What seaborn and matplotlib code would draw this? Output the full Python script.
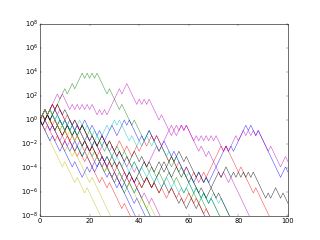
import numpy as np
import pandas as pd
import matplotlib
matplotlib.use("Agg")
import matplotlib.pyplot as plt
import seaborn as sns
from matplotlib.ticker import NullLocator

# Each walk: turning points (x, natural-log exponent k); value plotted = e**k
walk_b1 = [(0,0),(1,1),(4,-2),(5,-1),(9,-5),(10,-4),(12,-6),(14,-4),(17,-7),(18,-6),(22,-10),(24,-8),(27,-11),(28,-10),(31,-13),(32,-12),(38,-18),(39,-19)]
walk_g1 = [(0,0),(1,-1),(3,1),(4,0),(10,6),(11,5),(13,7),(14,6),(17,9),(18,8),(19,9),(20,8),(21,9),(22,8),(23,9),(27,5),(28,6),(32,2),(33,3),(37,-1),(38,0),(42,-4),(44,-2),(48,-6),(49,-5),(53,-9),(54,-8),(56,-10),(57,-9),(62,-14),(63,-13),(68,-18),(69,-19)]
walk_r1 = [(0,0),(2,-2),(3,-1),(6,-4),(7,-3),(9,-5),(11,-3),(15,-7),(16,-6),(18,-8),(19,-7),(24,-12),(25,-11),(27,-13),(28,-12),(33,-17),(34,-16),(37,-19)]
walk_c1 = [(0,0),(2,2),(3,1),(4,2),(8,-2),(9,-1),(10,-2),(11,-1),(16,-6),(18,-4),(20,-6),(21,-5),(25,-9),(27,-7),(31,-11),(32,-10),(35,-13),(36,-12),(38,-14),(39,-13),(44,-18),(45,-19)]
walk_m1 = [(0,0),(1,1),(2,0),(7,5),(8,4),(9,5),(12,2),(13,3),(14,2),(15,3),(16,2),(17,3),(18,2),(19,3),(20,2),(21,3),(23,1),(24,2),(25,1),(26,2),(27,1),(28,2),(32,6),(33,5),(35,7),(39,3),(40,4),(41,3),(42,4),(43,3),(44,4),(48,0),(49,1),(52,-2),(53,-1),(55,-3),(57,-1),(58,-2),(59,-1),(64,-6),(65,-5),(67,-7),(68,-6),(73,-11),(74,-10),(76,-12),(77,-11),(83,-17),(85,-19)]
walk_y1 = [(0,0),(9,-9),(10,-8),(14,-12),(15,-11),(18,-14),(19,-13),(24,-18),(25,-19)]
walk_k1 = [(0,0),(2,2),(3,1),(5,3),(9,-1),(10,0),(12,-2),(13,-1),(17,-5),(18,-4),(20,-6),(22,-4),(26,-8),(27,-7),(29,-9),(30,-8),(34,-12),(36,-10),(38,-12),(39,-11),(41,-13),(43,-11),(45,-13),(46,-12),(48,-14),(50,-12),(52,-14),(53,-13),(56,-16),(57,-15),(59,-17),(61,-15),(63,-17),(64,-16),(67,-19)]
walk_b2 = [(0,0),(2,2),(4,0),(5,1),(7,-1),(8,0),(10,-2),(11,-1),(13,-3),(15,-1),(16,-2),(18,0),(20,-2),(21,-1),(23,-3),(24,-2),(26,-4),(29,-1),(31,-3),(33,-1),(34,0),(35,-1),(36,0),(40,-4),(41,-3),(42,-4),(44,-2),(46,-4),(47,-3),(49,-5),(50,-4),(53,-7),(54,-6),(58,-10),(59,-9),(62,-12),(64,-10),(66,-12),(67,-11),(68,-12),(75,-5),(76,-6),(77,-5),(78,-6),(83,-1),(84,-2),(85,-1),(87,-3),(88,-2),(97,-11),(99,-9),(100,-10)]
walk_g2 = [(0,0),(1,-1),(3,1),(6,-2),(7,-1),(9,-3),(10,-2),(14,-6),(15,-5),(17,-7),(19,-5),(21,-7),(22,-6),(26,-10),(27,-9),(29,-11),(30,-10),(34,-14),(36,-12),(38,-14),(39,-13),(44,-18),(45,-19)]
walk_r2 = [(0,0),(2,2),(3,1),(5,3),(6,2),(7,3),(10,0),(11,1),(13,-1),(14,0),(16,-2),(17,-1),(20,-4),(21,-3),(23,-5),(25,-3),(27,-5),(28,-4),(30,-6),(32,-4),(34,-6),(35,-5),(37,-7),(39,-5),(40,-6),(42,-4),(43,-5),(45,-3),(46,-4),(47,-3),(52,-8),(53,-7),(55,-9),(56,-8),(58,-10),(59,-9),(61,-11),(62,-10),(64,-12),(66,-10),(67,-11),(73,-5),(74,-6),(75,-5),(80,-10),(81,-9),(86,-14),(87,-13),(93,-19)]
walk_c2 = [(0,0),(1,1),(2,0),(4,2),(6,0),(7,1),(9,-1),(10,0),(12,-2),(13,-1),(14,-2),(16,0),(18,-2),(19,-1),(21,-3),(22,-2),(24,-4),(27,-1),(28,-2),(30,0),(31,-1),(32,0),(36,-4),(37,-3),(39,-5),(40,-4),(41,-5),(43,-3),(45,-5),(46,-4),(48,-6),(49,-5),(51,-7),(52,-6),(54,-8),(55,-7),(59,-11),(60,-10),(65,-15),(66,-14),(68,-16),(69,-15),(73,-19)]
walk_m2 = [(0,0),(2,2),(3,1),(5,3),(7,1),(8,2),(11,-1),(12,0),(14,-2),(15,-1),(18,-4),(19,-3),(21,-5),(22,-4),(24,-6),(26,-4),(28,-6),(29,-5),(31,-7),(32,-6),(35,-9),(36,-8),(38,-10),(39,-9),(40,-10),(42,-8),(43,-9),(47,-5),(48,-6),(52,-2),(53,-3),(55,-1),(56,-2),(57,-1),(58,-2),(59,-1),(62,-4),(63,-3),(64,-4),(65,-3),(66,-4),(67,-3),(68,-4),(69,-3),(70,-4),(71,-3),(74,-6),(75,-5),(76,-6),(79,-3),(80,-4),(82,-2),(83,-3),(84,-2),(85,-3),(86,-2),(87,-3),(88,-2),(89,-3),(92,-6),(93,-5),(97,-9),(99,-7),(100,-8)]
walk_y2 = [(0,0),(1,1),(3,-1),(4,0),(10,-6),(11,-5),(13,-7),(14,-6),(20,-12),(21,-11),(28,-18),(29,-19)]
walk_k2 = [(0,0),(1,1),(2,0),(3,1),(6,-2),(7,-1),(9,-3),(11,-1),(13,-3),(14,-2),(17,-5),(18,-4),(20,-6),(21,-5),(24,-8),(25,-7),(27,-9),(29,-7),(31,-9),(32,-8),(35,-11),(36,-10),(38,-12),(40,-10),(42,-12),(43,-11),(45,-13),(46,-12),(50,-8),(51,-9),(53,-7),(54,-8),(56,-6),(58,-8),(59,-7),(63,-11),(64,-10),(66,-12),(67,-11),(69,-13),(72,-10),(73,-11),(75,-9),(77,-11),(78,-10),(79,-11),(80,-10),(81,-11),(82,-10),(83,-11),(84,-10),(85,-11),(86,-10),(91,-15),(92,-14),(93,-15),(95,-13),(97,-15),(98,-14),(100,-16)]
walk_b3 = [(0,0),(4,-4),(5,-3),(8,-6),(9,-5),(13,-9),(14,-8),(17,-11),(19,-9),(20,-10),(22,-8),(23,-9),(25,-7),(26,-8),(30,-12),(31,-11),(33,-13),(34,-12),(38,-16),(39,-15),(43,-19)]
walk_g3 = [(0,0),(2,2),(3,1),(4,2),(7,-1),(8,0),(10,-2),(11,-1),(13,-3),(14,-2),(15,-3),(17,-1),(19,-3),(20,-2),(23,-5),(24,-4),(26,-6),(27,-5),(29,-7),(31,-5),(33,-7),(34,-6),(37,-9),(38,-8),(40,-10),(42,-8),(44,-10),(45,-9),(47,-11),(48,-10),(50,-12),(52,-10),(54,-12),(55,-11),(58,-14),(59,-13),(61,-15),(62,-14),(64,-16),(66,-14),(68,-16),(69,-15),(73,-19)]
walk_r3 = [(0,0),(1,1),(2,0),(3,1),(5,-1),(6,0),(9,-3),(10,-2),(12,-4),(13,-3),(14,-4),(16,-2),(20,-6),(21,-5),(23,-7),(24,-6),(27,-9),(28,-8),(30,-10),(32,-8),(36,-12),(37,-11),(39,-13),(40,-12),(41,-13),(43,-11),(45,-13),(46,-12),(48,-14),(49,-13),(51,-15),(53,-13),(55,-15),(56,-14),(58,-16),(60,-14),(62,-16),(63,-15),(66,-18),(67,-17),(69,-19)]
walk_c3 = [(0,0),(2,2),(3,1),(4,2),(6,0),(7,1),(9,-1),(10,0),(11,-1),(12,0),(15,-3),(16,-2),(18,-4),(19,-3),(21,-5),(23,-3),(25,-5),(26,-4),(30,-8),(31,-7),(33,-9),(34,-8),(36,-10),(38,-8),(40,-10),(41,-9),(43,-11),(44,-10),(46,-12),(47,-11),(49,-13),(51,-11),(53,-13),(54,-12),(56,-14),(57,-13),(58,-14),(60,-12),(62,-14),(63,-13),(65,-15),(66,-14),(68,-16),(70,-14),(72,-16),(73,-15),(76,-18),(77,-19)]
walk_m3 = [(0,0),(1,-1),(2,0),(4,-2),(5,-1),(8,-4),(9,-3),(11,-5),(12,-4),(14,-6),(16,-4),(18,-6),(19,-5),(22,-8),(23,-7),(25,-9),(26,-8),(29,-11),(30,-10),(32,-12),(34,-10),(36,-12),(37,-11),(41,-15),(42,-14),(44,-16),(45,-15),(49,-19)]
walk_y3 = [(0,0),(2,2),(3,1),(4,2),(8,-2),(9,-1),(11,-3),(12,-2),(14,-4),(15,-3),(19,-7),(20,-6),(22,-8),(23,-7),(26,-10),(27,-9),(30,-12),(32,-10),(35,-13),(36,-12),(40,-16),(41,-15),(43,-17),(44,-16),(47,-19)]
walk_k3 = [(0,0),(1,-1),(3,1),(4,0),(7,3),(9,1),(10,2),(13,-1),(14,0),(16,-2),(17,-1),(20,-4),(21,-3),(23,-5),(25,-3),(27,-5),(28,-4),(31,-7),(32,-6),(34,-8),(35,-7),(36,-8),(38,-6),(40,-8),(41,-7),(43,-9),(44,-8),(46,-10),(48,-8),(50,-10),(51,-9),(53,-11),(55,-9),(57,-11),(58,-10),(60,-12),(61,-11),(64,-14),(65,-13),(67,-15),(69,-13),(71,-15),(72,-14),(76,-18),(77,-19)]

walks = [walk_b1, walk_g1, walk_r1, walk_c1, walk_m1, walk_y1, walk_k1,
         walk_b2, walk_g2, walk_r2, walk_c2, walk_m2, walk_y2, walk_k2,
         walk_b3, walk_g3, walk_r3, walk_c3, walk_m3, walk_y3, walk_k3]
walk_colors = ["b", "g", "r", "c", "m", "y", "k"] * 3

y_ticks = [1e-8, 1e-6, 1e-4, 1e-2, 1e0, 1e2, 1e4, 1e6, 1e8]
x_ticks = [0, 20, 40, 60, 80, 100]

plt.style.use("classic")

rows = []
for i, w in enumerate(walks):
    for x, k in w:
        rows.append({"walk": f"w{i:02d}", "x": x, "y": np.exp(k)})
df = pd.DataFrame(rows)

fig, ax = plt.subplots(figsize=(8, 6), dpi=40)
fig.patch.set_facecolor("white")
ax.set_yscale("log")
sns.lineplot(data=df, x="x", y="y", hue="walk", palette=walk_colors,
             estimator=None, sort=False, legend=False, linewidth=1.0,
             alpha=0.7, ax=ax)
ax.set_xlim(0, 100)
ax.set_ylim(1e-8, 1e8)
ax.set_xticks(x_ticks)
ax.set_yticks(y_ticks)
ax.yaxis.set_minor_locator(NullLocator())
ax.xaxis.set_minor_locator(NullLocator())
ax.set_xlabel("")
ax.set_ylabel("")
fig.subplots_adjust(left=0.125, right=0.9, bottom=0.1, top=0.9)
fig.savefig("out.png", dpi=40, facecolor="white")
